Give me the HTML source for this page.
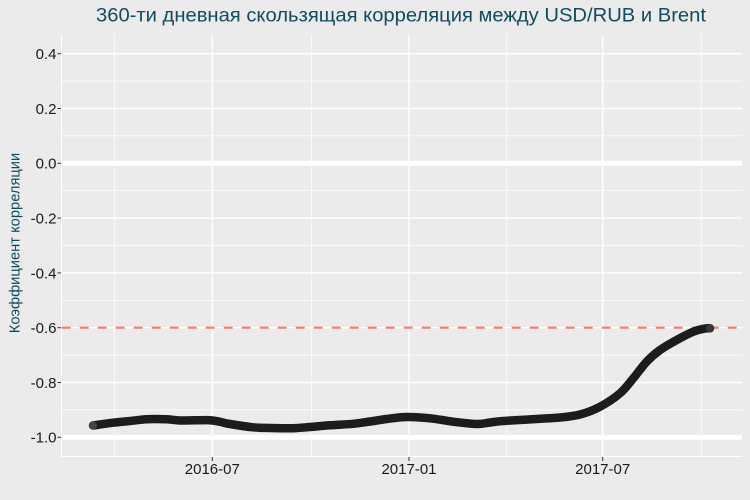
<!DOCTYPE html>
<html>
<head>
<meta charset="utf-8">
<style>
  html,body{margin:0;padding:0;background:#EBEBEB;}
  svg{display:block;}
  text{font-family:"Liberation Sans","DejaVu Sans",sans-serif;}
</style>
</head>
<body>
<svg width="750" height="500" viewBox="0 0 750 500" xmlns="http://www.w3.org/2000/svg">
  <rect x="0" y="0" width="750" height="500" fill="#EBEBEB"/>
  <rect x="61" y="35" width="681" height="421" fill="#EBEBEB"/>
  <g stroke="#FFFFFF" stroke-width="0.7">
    <line x1="61" x2="742" y1="81.1" y2="81.1"/>
    <line x1="61" x2="742" y1="135.9" y2="135.9"/>
    <line x1="61" x2="742" y1="190.7" y2="190.7"/>
    <line x1="61" x2="742" y1="245.5" y2="245.5"/>
    <line x1="61" x2="742" y1="300.3" y2="300.3"/>
    <line x1="61" x2="742" y1="355.1" y2="355.1"/>
    <line x1="61" x2="742" y1="409.9" y2="409.9"/>
    <line y1="35" y2="456" x1="114.3" x2="114.3"/>
    <line y1="35" y2="456" x1="311.7" x2="311.7"/>
    <line y1="35" y2="456" x1="506.7" x2="506.7"/>
    <line y1="35" y2="456" x1="701.3" x2="701.3"/>
  </g>
  <g stroke="#FFFFFF" stroke-width="1.4">
    <line x1="61" x2="742" y1="53.7" y2="53.7"/>
    <line x1="61" x2="742" y1="108.5" y2="108.5"/>
    <line x1="61" x2="742" y1="163.3" y2="163.3"/>
    <line x1="61" x2="742" y1="218.1" y2="218.1"/>
    <line x1="61" x2="742" y1="272.9" y2="272.9"/>
    <line x1="61" x2="742" y1="327.7" y2="327.7"/>
    <line x1="61" x2="742" y1="382.5" y2="382.5"/>
    <line x1="61" x2="742" y1="437.3" y2="437.3"/>
    <line y1="35" y2="456" x1="212.3" x2="212.3"/>
    <line y1="35" y2="456" x1="409" x2="409"/>
    <line y1="35" y2="456" x1="602.7" x2="602.7"/>
  </g>
  <g stroke="#FFFFFF" stroke-width="1">
    <line x1="61.5" x2="61.5" y1="35" y2="457"/>
    <line x1="61" x2="742" y1="456.5" y2="456.5"/>
  </g>
  <line x1="61" x2="742" y1="163.3" y2="163.3" stroke="#FFFFFF" stroke-width="5"/>
  <line x1="61" x2="742" y1="437.3" y2="437.3" stroke="#FFFFFF" stroke-width="5"/>
  <line x1="61.7" x2="742" y1="327.7" y2="327.7" stroke="#F47C78" stroke-width="2.2" stroke-dasharray="9 9"/>

  <path id="series" d="M93,425.5 L113,422.7 L130,421 L146.7,419.2 L166.7,419.3 L180,420.5 L195,420.3 L210,420.2 L220,421.8 L230,424 L253,427.3 L270,428 L293,428.2 L310,427 L330,425.3 L353,423.8 L370,421.5 L386.7,419 L406.7,417 L430,418.3 L453,421.7 L476.7,424 L490,422.5 L503,421 L536.7,419 L560,417.5 L580,414.5 L600,406.7 L620,393.3 L633.3,378.3 L646.7,361.7 L660,350 L676.7,340 L693.3,331.7 L705,328.5 L710,328.3"
        fill="none" stroke="#1c1c1c" stroke-width="8.5" stroke-linejoin="round" stroke-linecap="round"/>
  <circle cx="93" cy="425.6" r="4" fill="#444"/>
  <circle cx="710" cy="328.2" r="4" fill="#3a3a3a"/>

  <g stroke="#333" stroke-width="1">
    <line x1="57.5" x2="61" y1="53.7" y2="53.7"/>
    <line x1="57.5" x2="61" y1="108.5" y2="108.5"/>
    <line x1="57.5" x2="61" y1="163.3" y2="163.3"/>
    <line x1="57.5" x2="61" y1="218.1" y2="218.1"/>
    <line x1="57.5" x2="61" y1="272.9" y2="272.9"/>
    <line x1="57.5" x2="61" y1="327.7" y2="327.7"/>
    <line x1="57.5" x2="61" y1="382.5" y2="382.5"/>
    <line x1="57.5" x2="61" y1="437.3" y2="437.3"/>
    <line y1="457" y2="461" x1="212.3" x2="212.3"/>
    <line y1="457" y2="461" x1="409" x2="409"/>
    <line y1="457" y2="461" x1="602.7" x2="602.7"/>
  </g>
  <g font-size="15" fill="#1a1a1a" text-anchor="end">
    <text x="56.5" y="59.1">0.4</text>
    <text x="56.5" y="113.9">0.2</text>
    <text x="56.5" y="168.7">0.0</text>
    <text x="56.5" y="223.5">-0.2</text>
    <text x="56.5" y="278.3">-0.4</text>
    <text x="56.5" y="333.1">-0.6</text>
    <text x="56.5" y="387.9">-0.8</text>
    <text x="56.5" y="442.7">-1.0</text>
  </g>
  <g font-size="15" fill="#1a1a1a" text-anchor="middle">
    <text x="212.3" y="474">2016-07</text>
    <text x="409" y="474">2017-01</text>
    <text x="602.7" y="474">2017-07</text>
  </g>
  <text transform="translate(19.5,243) rotate(-90)" font-size="14.7" fill="#114B5F" text-anchor="middle">Коэффициент корреляции</text>
  <text x="401" y="21.5" font-size="19.8" fill="#114B5F" text-anchor="middle" textLength="610" lengthAdjust="spacingAndGlyphs">360-ти дневная скользящая корреляция между USD/RUB и Brent</text>
</svg>
<script>
(function(){
  var p=[[93,425.5],[113,422.7],[130,421],[146.7,419.2],[166.7,419.3],[180,420.5],[195,420.3],[210,420.2],[220,421.8],[230,424],[253,427.3],[270,428],[293,428.2],[310,427],[330,425.3],[353,423.8],[370,421.5],[386.7,419],[406.7,417],[430,418.3],[453,421.7],[476.7,424],[490,422.5],[503,421],[536.7,419],[560,417.5],[580,414.5],[600,406.7],[620,393.3],[633.3,378.3],[646.7,361.7],[660,350],[676.7,340],[693.3,331.7],[705,328.5],[710,328.3]];
  var d="M"+p[0][0]+","+p[0][1];
  for(var i=0;i<p.length-1;i++){
    var p0=p[i>0?i-1:i],p1=p[i],p2=p[i+1],p3=p[i+2<p.length?i+2:i+1];
    var c1x=p1[0]+(p2[0]-p0[0])/6,c1y=p1[1]+(p2[1]-p0[1])/6;
    var c2x=p2[0]-(p3[0]-p1[0])/6,c2y=p2[1]-(p3[1]-p1[1])/6;
    d+=" C"+c1x.toFixed(2)+","+c1y.toFixed(2)+" "+c2x.toFixed(2)+","+c2y.toFixed(2)+" "+p2[0]+","+p2[1];
  }
  var el=document.getElementById("series");
  if(el) el.setAttribute("d",d);
})();
</script>
</body>
</html>
